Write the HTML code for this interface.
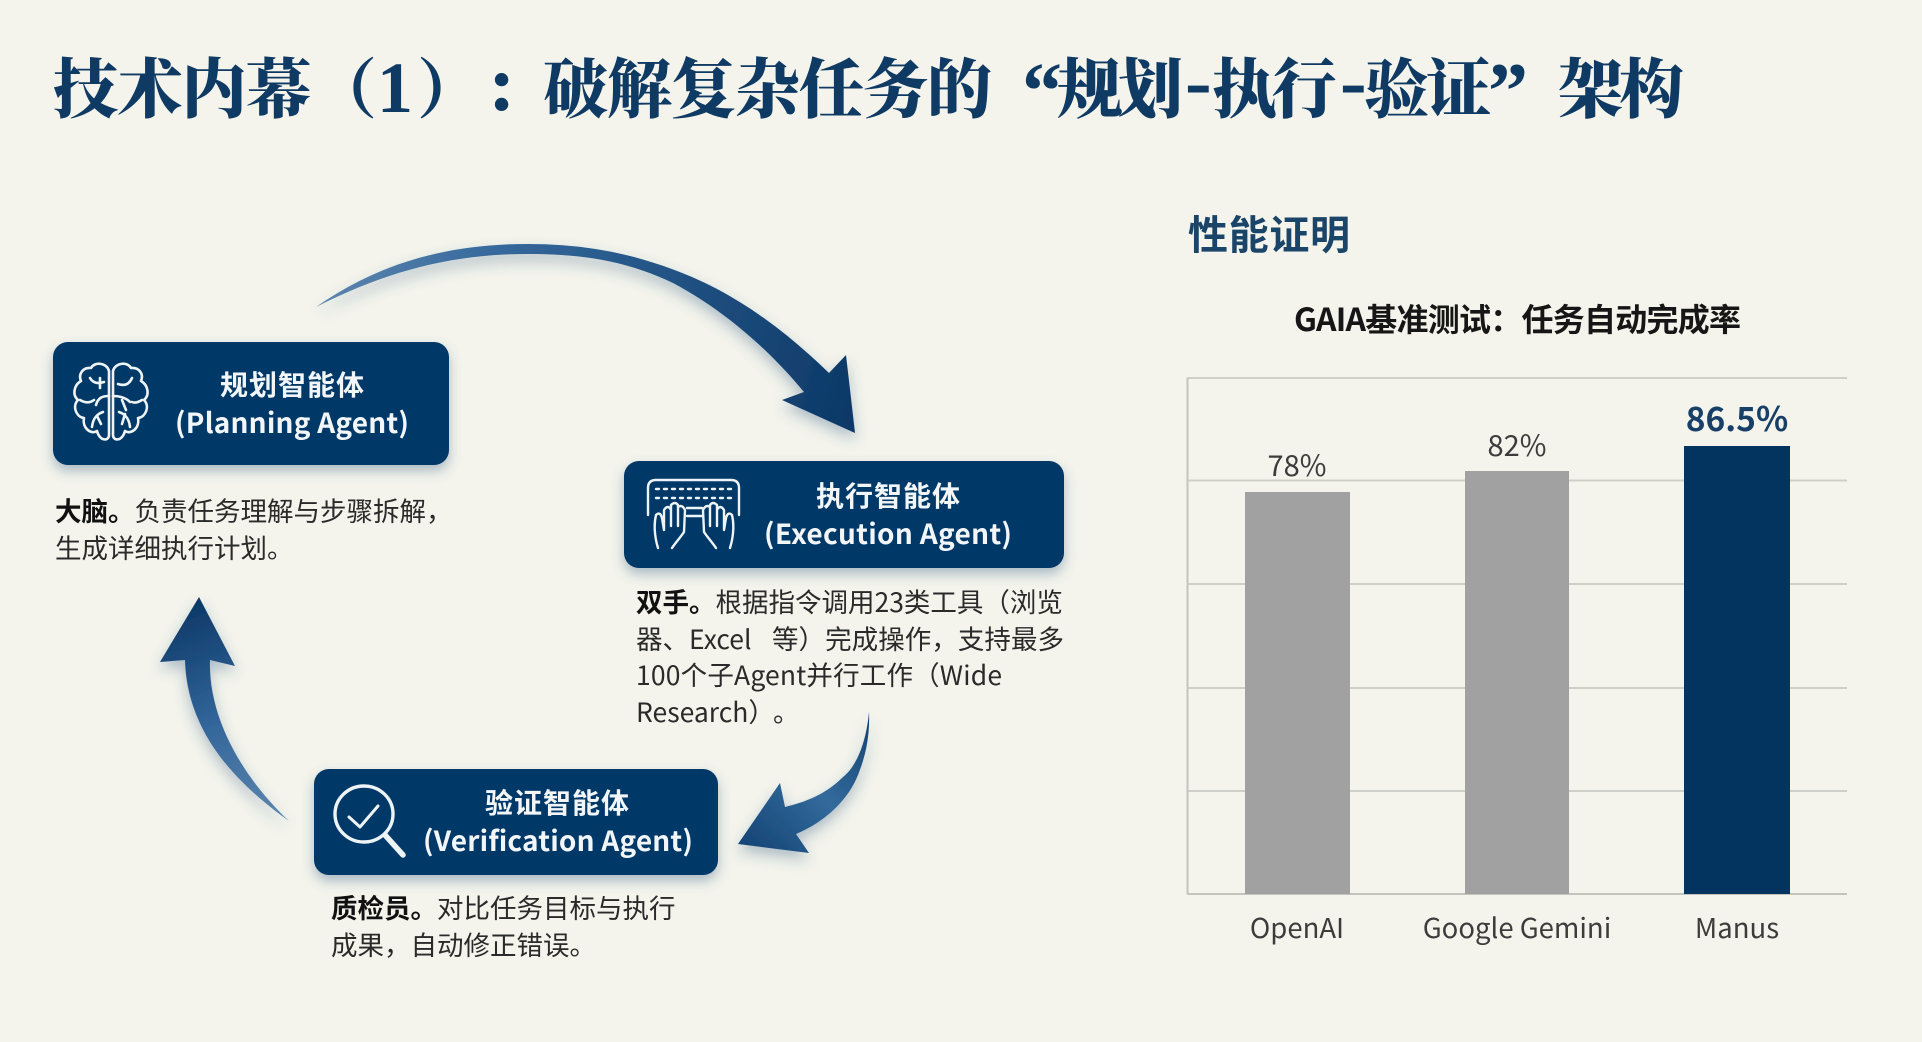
<!DOCTYPE html>
<html><head><meta charset="utf-8"><style>
html,body{margin:0;padding:0;background:#f4f4ec}
svg{display:block}
.n{font-family:"Noto Sans CJK SC","Liberation Sans",sans-serif}
.t{font-family:"Noto Serif CJK SC","Liberation Serif",serif;font-weight:900;font-size:65px;fill:#0f3a63}
.p{font-family:"Liberation Serif",serif;font-weight:700;fill:#0f3a63}
.h{font-family:"Noto Sans CJK SC",sans-serif;font-weight:700;fill:#f2f6f8;font-size:28px;text-anchor:middle}
.b{font-family:"Noto Sans CJK SC",sans-serif;font-size:26.5px;fill:#2a2a2a}
.b tspan{font-weight:700;fill:#111}
.l{font-family:"Noto Sans CJK SC",sans-serif;font-size:29px;fill:#3c3c3c;text-anchor:middle}
.a{font-size:27.5px}
</style></head><body>
<svg width="1922" height="1042" viewBox="0 0 1922 1042" xmlns="http://www.w3.org/2000/svg">
<defs>
<filter id="sh" x="-20%" y="-20%" width="140%" height="150%"><feDropShadow dx="0" dy="6" stdDeviation="6" flood-color="#3a5f88" flood-opacity=".4"/></filter>
<filter id="sa" x="-20%" y="-20%" width="140%" height="140%"><feDropShadow dx="0" dy="7" stdDeviation="7" flood-color="#2f5680" flood-opacity=".35"/></filter>
<linearGradient id="g1" gradientUnits="userSpaceOnUse" x1="320" y1="300" x2="850" y2="430"><stop offset="0" stop-color="#5c84ad"/><stop offset=".3" stop-color="#34689c"/><stop offset="1" stop-color="#0c3866"/></linearGradient>
<linearGradient id="g2" gradientUnits="userSpaceOnUse" x1="869" y1="712" x2="740" y2="845"><stop offset="0" stop-color="#15416e"/><stop offset=".5" stop-color="#336a9c"/><stop offset="1" stop-color="#144475"/></linearGradient>
<linearGradient id="g3" gradientUnits="userSpaceOnUse" x1="288" y1="820" x2="199" y2="597"><stop offset="0" stop-color="#5d86ae"/><stop offset=".5" stop-color="#32659a"/><stop offset="1" stop-color="#0c3866"/></linearGradient>
</defs>
<rect width="1922" height="1042" fill="#f4f4ec"/>

<!-- Title -->
<text class="t" y="112" x="53" textLength="258">技术内幕</text>
<text class="t" y="112" x="312">（</text>
<text class="p" y="112" x="377" font-size="72">1</text>
<text class="t" y="112" x="417">）</text>
<text class="t" y="112" x="483">：</text>
<text class="t" y="112" x="543" textLength="449">破解复杂任务的</text>
<text class="p" y="118" x="1022" font-size="80">“</text>
<text class="t" y="112" x="1057" textLength="126">规划</text>
<text class="p" y="108" x="1185" font-size="80">-</text>
<text class="t" y="112" x="1212" textLength="125">执行</text>
<text class="p" y="108" x="1340" font-size="80">-</text>
<text class="t" y="112" x="1364" textLength="127">验证</text>
<text class="p" y="118" x="1488" font-size="80">”</text>
<text class="t" y="112" x="1558" textLength="126">架构</text>

<!-- Arrows -->
<path filter="url(#sa)" fill="url(#g1)" d="M316,307 C380,262 450,244 527,244 C590,244 640,255 692,277 C745,300 790,335 829,373 L846,355 L855,433 L782,400 L804,392 C765,345 720,308 673,283 C625,260 580,254 527,254 C450,254 385,272 316,307 Z"/>
<path filter="url(#sa)" fill="url(#g2)" d="M869,712 C866,745 855,768 843,777 C825,795 805,802 785,807 L780,783 L738,844 L809,853 L796,834 C825,822 848,800 858,775 C866,755 870,735 869,712 Z"/>
<path filter="url(#sa)" fill="url(#g3)" d="M289,821 C240,786 187,735 185,660 L160,662 L199,597 L235,666 L210,660 C208,715 240,775 289,821 Z"/>

<!-- Card 1 -->
<rect x="53" y="342" width="396" height="123" rx="15" fill="#063867" filter="url(#sh)"/>
<g fill="none" stroke="#eef4f6" stroke-width="2.6" stroke-linecap="round" stroke-linejoin="round">
 <g>
  <path d="M109,371 C107,363 95,361 91,368 C83,367 78,374 81,381 C74,385 72,395 78,400 C72,406 76,417 84,418 C82,428 91,435 97,431 C100,442 109,441 109,435 Z"/>
  <path d="M90,378 C93,383 98,384 104,382 M100,378 L100,388 M109,396 C102,396 98,398 96,405 M80,400 C85,403 90,403 94,400 M92,427 C93,418 97,414 103,412 M97,416 L101,424"/>
 </g>
 <g transform="translate(222,0) scale(-1,1)">
  <path d="M109,371 C107,363 95,361 91,368 C83,367 78,374 81,381 C74,385 72,395 78,400 C72,406 76,417 84,418 C82,428 91,435 97,431 C100,442 109,441 109,435 Z"/>
  <path d="M90,378 C93,385 98,386 104,384 M109,396 C102,396 96,398 92,402 M100,400 L96,410 M80,400 C85,403 88,403 90,402 M92,427 C93,418 97,414 103,412 M97,414 L100,424"/>
 </g>
</g>
<text class="h" x="292" y="395" textLength="144">规划智能体</text>
<text class="h" x="292" y="433" textLength="234">(Planning Agent)</text>
<text class="b" x="55" y="521"><tspan>大脑。</tspan>负责任务理解与步骤拆解，</text>
<text class="b" x="55" y="558">生成详细执行计划。</text>

<!-- Card 2 -->
<rect x="624" y="461" width="440" height="107" rx="15" fill="#063867" filter="url(#sh)"/>
<g fill="none" stroke="#eef4f6" stroke-width="2.4" stroke-linecap="round" stroke-linejoin="round">
 <path d="M648,515 V488 Q648,480 656,480 H731 Q739,480 739,488 V515"/>
 <path d="M656,489 H732 M656,498 H732" stroke-dasharray="3 5"/>
 <path d="M687,508 H702 M687,516 H702"/>
 <path d="M658,548 C654,535 654,523 656,515 Q660,511 662,518 L664,530 L664,510 Q668,504 671,510 V526 V505 Q675,501 678,505 V526 V507 Q682,504 685,510 L684,532 C680,538 676,542 672,548"/>
 <path d="M730,548 C734,535 734,523 732,515 Q728,511 726,518 L724,530 L724,510 Q720,504 717,510 V526 V505 Q713,501 710,505 V526 V507 Q706,504 703,510 L704,532 C708,538 712,542 716,548"/>
</g>
<text class="h" x="888" y="506" textLength="144">执行智能体</text>
<text class="h" x="888" y="544" textLength="248">(Execution Agent)</text>
<text class="b" x="636" y="612"><tspan>双手。</tspan>根据指令调用23类工具（浏览</text>
<text class="b" x="636" y="649">器、Excel</text>
<text class="b" x="772" y="649" textLength="292">等）完成操作，支持最多</text>
<text class="b" x="636" y="685" textLength="366">100个子Agent并行工作（Wide</text>
<text class="b" x="636" y="722">Research）</text>
<text class="b" x="773" y="722">。</text>

<!-- Card 3 -->
<rect x="314" y="769" width="404" height="106" rx="15" fill="#063867" filter="url(#sh)"/>
<g fill="none" stroke="#eef4f6" stroke-linecap="round" stroke-linejoin="round">
 <ellipse cx="364" cy="814" rx="29" ry="28" stroke-width="3.4"/>
 <path d="M385,835 L403,855" stroke-width="5.5"/>
 <path d="M349,817 L360,827 L378,806" stroke-width="3"/>
</g>
<text class="h" x="557" y="813" textLength="144">验证智能体</text>
<text class="h" x="558" y="851" textLength="270">(Verification Agent)</text>
<text class="b" x="331" y="918"><tspan>质检员。</tspan>对比任务目标与执行</text>
<text class="b" x="331" y="955">成果，自动修正错误。</text>

<!-- Right -->
<text class="n" x="1188" y="249" font-size="40" font-weight="700" fill="#1a4468" textLength="162">性能证明</text>
<text class="n" x="1294" y="331" font-size="32" font-weight="700" fill="#161616" textLength="447">GAIA基准测试：任务自动完成率</text>

<g stroke="#cfcfc9" stroke-width="2" fill="none">
 <path d="M1187,378 H1847 M1187,480.5 H1847 M1187,584 H1847 M1187,688 H1847 M1187,791 H1847"/>
 <path d="M1187.5,378 V894 M1187,894 H1847" stroke="#c4c4be"/>
</g>
<rect x="1245" y="492" width="105" height="402" fill="#a1a1a1"/>
<rect x="1465" y="471" width="104" height="423" fill="#a1a1a1"/>
<rect x="1684" y="446" width="106" height="448" fill="#03345f"/>
<text class="l" x="1297" y="476" font-size="30">78%</text>
<text class="l" x="1517" y="456">82%</text>
<text class="n" x="1737" y="431" font-size="33.5" font-weight="700" fill="#173f68" text-anchor="middle">86.5%</text>
<text class="l a" x="1297" y="938">OpenAI</text>
<text class="l a" x="1517" y="938">Google Gemini</text>
<text class="l a" x="1737" y="938">Manus</text>
</svg>
</body></html>
